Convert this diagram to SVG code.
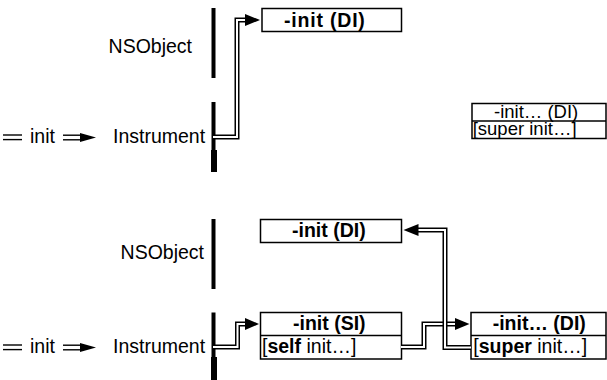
<svg xmlns="http://www.w3.org/2000/svg" width="607" height="380" viewBox="0 0 607 380">
<defs>
<style>
text{font-family:"Liberation Sans",Arial,Helvetica,sans-serif;font-size:19.5px;fill:#000}
.b{font-weight:bold}
.s{font-size:18.5px}
.box{fill:#fff;stroke:#000;stroke-width:1.5}
.div{stroke:#000;stroke-width:1.5}
.bar{fill:#000}
.out{fill:none;stroke:#000;stroke-width:5}
.in{fill:none;stroke:#fff;stroke-width:2}
.out2{fill:none;stroke:#000;stroke-width:6}
.in2{fill:none;stroke:#fff;stroke-width:3.2}
.head{fill:#000}
</style>
</defs>
<rect width="607" height="380" fill="#fff"/>

<!-- Upper section -->
<g id="upper-entry">
<path class="out2" d="M3,137.3H22"/><path class="in2" d="M2,137.3H23"/>
<text x="30" y="142.5">init</text>
<path class="out2" d="M63,137.5H84"/><path class="in2" d="M62,137.5H84"/>
<polygon class="head" points="80,133 96,137.5 80,142"/>
</g>
<g id="upper-nsobject">
<text x="192" y="53" text-anchor="end">NSObject</text>
<rect class="bar" x="211.5" y="8" width="4" height="70"/>
</g>
<g id="upper-instrument">
<text x="113" y="143">Instrument</text>
<rect class="bar" x="211.5" y="102" width="4" height="48"/>
<rect class="bar" x="211" y="150" width="6" height="22"/>
</g>
<g id="upper-nsobject-init">
<rect class="box" x="262" y="8.5" width="139.5" height="23"/>
<text class="b" x="284" y="26.7" letter-spacing="0.8">-init (DI)</text>
</g>
<g id="upper-instrument-init">
<rect class="box" x="472" y="103.5" width="134" height="35"/>
<line class="div" x1="472" y1="121" x2="606" y2="121"/>
<text class="s" x="494" y="117.5">-init… (DI)</text>
<text class="s" x="472.7" y="134.5">[super init…]</text>
</g>

<!-- Lower section -->
<g id="lower-entry">
<path class="out2" d="M3,347.3H22"/><path class="in2" d="M2,347.3H23"/>
<text x="30" y="352.5">init</text>
<path class="out2" d="M63,347.5H84"/><path class="in2" d="M62,347.5H84"/>
<polygon class="head" points="80,343 96,347.5 80,352"/>
</g>
<g id="lower-nsobject">
<text x="204" y="259.3" text-anchor="end">NSObject</text>
<rect class="bar" x="211.5" y="219" width="4" height="70"/>
</g>
<g id="lower-instrument">
<text x="113" y="353">Instrument</text>
<rect class="bar" x="211.5" y="312.5" width="4" height="45"/>
<rect class="bar" x="211" y="357" width="6" height="23"/>
</g>
<g id="lower-nsobject-init">
<rect class="box" x="260.5" y="219.5" width="141" height="23"/>
<text class="b" x="292" y="237">-init (DI)</text>
</g>
<g id="lower-instrument-init-si">
<rect class="box" x="260.5" y="312.5" width="141" height="46.5"/>
<line class="div" x1="260.5" y1="335.5" x2="401.5" y2="335.5"/>
<text class="b" x="293" y="330">-init (SI)</text>
<text x="262" y="353">[<tspan class="b">self</tspan> init…]</text>
</g>
<g id="lower-instrument-init-di">
<rect class="box" x="471" y="312.5" width="135" height="46.5"/>
<line class="div" x1="471" y1="335.5" x2="606" y2="335.5"/>
<text class="b" x="492.7" y="330">-init… (DI)</text>
<text x="473.3" y="353">[<tspan class="b">super</tspan> init…]</text>
</g>

<g id="connectors">
<path class="out" d="M213,137H237V20H248"/><path class="in" d="M213,137H237V20H248"/>
<polygon class="head" points="245,14 260,20 245,26"/>

<path class="out" d="M213,347H237.5V324H248"/><path class="in" d="M213,347H237.5V324H248"/>
<polygon class="head" points="245,318 259,324 245,330"/>

<path class="out" d="M401,347H424V324H458"/><path class="in" d="M401,347H424V324H458"/>
<polygon class="head" points="455,318 469.5,324 455,330"/>

<path class="out" d="M471,347.5H445V230H416"/><path class="in" d="M471,347.5H445V230H416"/>
<polygon class="head" points="418.5,224 403.5,230 418.5,236"/>
</g>
</svg>
